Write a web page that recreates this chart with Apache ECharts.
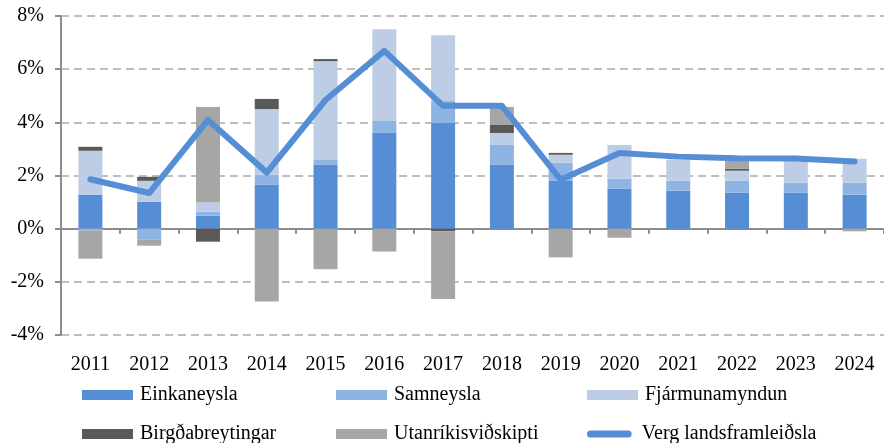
<!DOCTYPE html>
<html>
<head>
<meta charset="utf-8">
<script src="https://cdn.jsdelivr.net/npm/echarts@6/dist/echarts.min.js"></script>
<style>
  html, body { margin: 0; padding: 0; background: #fff; }
  #chart { width: 884px; height: 443px; }
</style>
</head>
<body>
<div id="chart"></div>
<script>
// ár
const years = ['2011', '2012', '2013', '2014', '2015', '2016', '2017', '2018', '2019', '2020', '2021', '2022', '2023', '2024']
// framlag til hagvaxtar, %
const einkaneysla = [1.28, 1.01, 0.49, 1.65, 2.40, 3.60, 3.98, 2.40, 1.80, 1.50, 1.43, 1.35, 1.36, 1.28]
const samneysla = [-0.08, -0.41, 0.15, 0.38, 0.21, 0.45, 0.82, 0.75, 0.68, 0.38, 0.37, 0.45, 0.37, 0.45]
const fjarmunamyndun = [1.65, 0.79, 0.34, 2.47, 3.69, 3.45, 2.48, 0.45, 0.30, 1.27, 0.80, 0.38, 0.87, 0.90]
const birgdabreytingar = [0.15, 0.15, -0.49, 0.38, 0.08, 0, -0.10, 0.30, 0.07, 0, 0, 0.07, 0, 0]
const utanrikisvidskipti = [-1.05, -0.23, 3.60, -2.74, -1.53, -0.86, -2.55, 0.68, -1.08, -0.34, 0, 0.35, 0, -0.10]
const vergLandsframleidsla = [1.86, 1.34, 4.09, 2.11, 4.84, 6.69, 4.62, 4.62, 1.84, 2.85, 2.71, 2.65, 2.64, 2.53]
// y ás
const yMin = -4
const yMax = 8
const yStep = 2

const font = "'Liberation Serif', 'Times New Roman', serif"
const colors = {
  einka: '#558ed5',
  samn: '#8eb4e3',
  fjarm: '#bccde5',
  birgda: '#595959',
  utan: '#a6a6a6',
  line: '#558ed5'
}

function barSeries(name, data, color) {
  return {
    name,
    type: 'bar',
    stack: 'total',
    barWidth: 24,
    data,
    itemStyle: { color },
    emphasis: { disabled: true }
  }
}

function legendAt(name, left, top, icon, h) {
  return {
    data: [name],
    left,
    top,
    padding: 0,
    itemWidth: 51,
    itemHeight: h || 10,
    icon: icon || 'rect',
    itemGap: 0,
    textStyle: { fontFamily: font, fontSize: 20, color: '#000', padding: [0, 0, 0, 2] }
  }
}

const capsule = 'path://M4,0 L47,0 A4,4 0 0 1 47,8 L4,8 A4,4 0 0 1 4,0 Z'

const chart = echarts.init(document.getElementById('chart'))
chart.setOption({
  animation: false,
  backgroundColor: '#fff',
  grid: { left: 61, top: 16, bottom: 108, right: -7, containLabel: false },
  legend: [
    legendAt('Einkaneysla', 82, 385),
    legendAt('Samneysla', 336, 385),
    legendAt('Fjármunamyndun', 587, 385),
    legendAt('Birgðabreytingar', 82, 424),
    legendAt('Utanríkisviðskipti', 336, 424),
    legendAt('Verg landsframleiðsla', 587, 424, capsule, 7)
  ],
  xAxis: [
    {
      type: 'category',
      data: years,
      position: 'bottom',
      axisLine: { onZero: true, lineStyle: { color: '#8c8c8c', width: 2 } },
      axisTick: { show: true, length: 5, lineStyle: { color: '#8c8c8c', width: 2 } },
      axisLabel: { show: false },
      splitLine: { show: false }
    },
    {
      type: 'category',
      data: years,
      position: 'bottom',
      axisLine: { show: false, onZero: false },
      axisTick: { show: false },
      axisLabel: { fontFamily: font, fontSize: 20, color: '#000', margin: 20 },
      splitLine: { show: false }
    }
  ],
  yAxis: {
    type: 'value',
    min: yMin,
    max: yMax,
    interval: yStep,
    axisLine: { show: true, lineStyle: { color: '#8c8c8c', width: 2 } },
    axisTick: { show: true, length: 6, lineStyle: { color: '#8c8c8c', width: 2 } },
    axisLabel: {
      fontFamily: font,
      fontSize: 20,
      color: '#000',
      margin: 17,
      formatter: '{value}%'
    },
    splitLine: { lineStyle: { color: '#bfbfbf', width: 2, type: [8, 5] } }
  },
  series: [
    barSeries('Einkaneysla', einkaneysla, colors.einka),
    barSeries('Samneysla', samneysla, colors.samn),
    barSeries('Fjármunamyndun', fjarmunamyndun, colors.fjarm),
    barSeries('Birgðabreytingar', birgdabreytingar, colors.birgda),
    barSeries('Utanríkisviðskipti', utanrikisvidskipti, colors.utan),
    {
      name: 'Verg landsframleiðsla',
      type: 'line',
      data: vergLandsframleidsla,
      symbol: 'none',
      itemStyle: { color: colors.line },
      lineStyle: { color: colors.line, width: 6, cap: 'round', join: 'round' },
      z: 5
    }
  ]
})
</script>
</body>
</html>
